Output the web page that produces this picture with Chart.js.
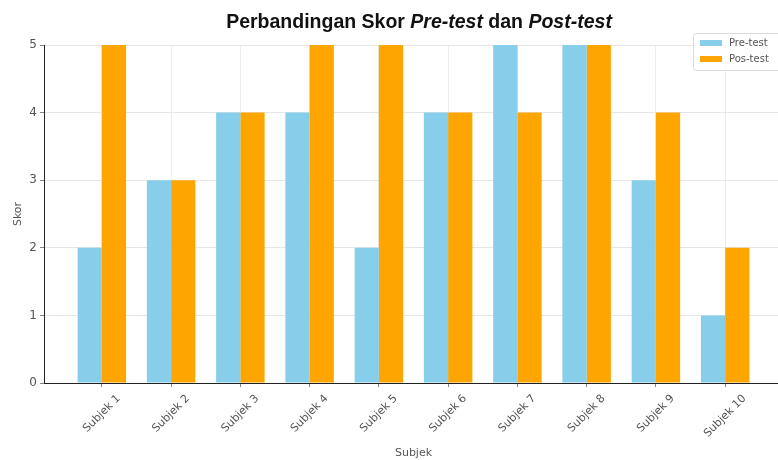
<!DOCTYPE html>
<html>
<head>
    <title>Perbandingan Skor Pre-test dan Post-test</title>
    <script src="https://cdn.jsdelivr.net/npm/chart.js"></script>
    <style>
        html, body { margin: 0; padding: 0; background: #fff; overflow: hidden; }
        .chart-container { width: 800px; height: 460px; }
    </style>
</head>
<body>
    <div class="chart-container">
        <canvas id="skorChart" width="800" height="460"></canvas>
    </div>
    <script type="text/javascript">
        // Data
        const subjects = ['Subjek 1', 'Subjek 2', 'Subjek 3', 'Subjek 4', 'Subjek 5',
                          'Subjek 6', 'Subjek 7', 'Subjek 8', 'Subjek 9', 'Subjek 10'];
        const preTest  = [2, 3, 4, 4, 2, 4, 5, 5, 3, 1];
        const postTest = [5, 3, 4, 5, 5, 4, 4, 5, 4, 2];
        const yTicks   = [0, 1, 2, 3, 4, 5];

        const toPoints = arr => arr.map((v, i) => ({ x: i, y: v }));

        // Title with italic parts, drawn on top of the chart
        const titlePlugin = {
            id: 'mixedTitle',
            afterDraw(chart) {
                const ctx = chart.ctx;
                const parts = [
                    ['Perbandingan Skor ', 'bold'],
                    ['Pre-test', 'italic bold'],
                    [' dan ', 'bold'],
                    ['Post-test', 'italic bold']
                ];
                const size = 19.5;
                let total = 0;
                parts.forEach(p => {
                    ctx.font = p[1] + ' ' + size + 'px "Liberation Sans", Arial, sans-serif';
                    p.push(ctx.measureText(p[0]).width);
                    total += p[2];
                });
                let x = 419 - total / 2;
                ctx.save();
                ctx.fillStyle = '#111';
                ctx.textBaseline = 'alphabetic';
                parts.forEach(p => {
                    ctx.font = p[1] + ' ' + size + 'px "Liberation Sans", Arial, sans-serif';
                    ctx.fillText(p[0], x, 28);
                    x += p[2];
                });
                ctx.restore();
            }
        };

        // x tick labels rotated 45 degrees, centred under each tick
        const xLabelPlugin = {
            id: 'xLabels',
            afterDraw(chart) {
                const ctx = chart.ctx;
                const scale = chart.scales.x;
                const top = chart.chartArea.bottom + 10;
                ctx.save();
                ctx.font = '11px "DejaVu Sans", sans-serif';
                ctx.fillStyle = '#555';
                ctx.textAlign = 'center';
                ctx.textBaseline = 'middle';
                subjects.forEach((s, i) => {
                    const px = scale.getPixelForValue(i);
                    const w = ctx.measureText(s).width;
                    const half = (w + 11) / (2 * Math.SQRT2);
                    ctx.save();
                    ctx.translate(px, top + half);
                    ctx.rotate(-Math.PI / 4);
                    ctx.fillText(s, 0, 0);
                    ctx.restore();
                });
                ctx.restore();
            }
        };

        // Legend inside the plot, upper right corner
        const legendPlugin = {
            id: 'innerLegend',
            afterDraw(chart) {
                const ctx = chart.ctx;
                const bx = 693, by = 33, bw = 95, bh = 37;
                ctx.save();
                ctx.fillStyle = 'rgba(255,255,255,0.85)';
                ctx.strokeStyle = '#dddddd';
                ctx.lineWidth = 1;
                ctx.beginPath();
                ctx.roundRect(bx + 0.5, by + 0.5, bw, bh, 3);
                ctx.fill();
                ctx.stroke();
                chart.data.datasets.forEach((ds, i) => {
                    const y = by + 10 + i * 16;
                    ctx.fillStyle = ds.backgroundColor;
                    ctx.fillRect(bx + 7, y - 3, 22, 6);
                    ctx.fillStyle = '#555';
                    ctx.font = '10px "DejaVu Sans", sans-serif';
                    ctx.textBaseline = 'middle';
                    ctx.fillText(ds.label, bx + 36, y);
                });
                ctx.restore();
            }
        };

        const ctx = document.getElementById('skorChart').getContext('2d');
        const skorChart = new Chart(ctx, {
            type: 'bar',
            data: {
                datasets: [
                    {
                        label: 'Pre-test',
                        data: toPoints(preTest),
                        backgroundColor: '#87CEEB',
                        borderWidth: 0
                    },
                    {
                        label: 'Pos-test',
                        data: toPoints(postTest),
                        backgroundColor: '#FFA500',
                        borderWidth: 0
                    }
                ]
            },
            options: {
                responsive: false,
                animation: false,
                categoryPercentage: 0.7,
                barPercentage: 1.0,
                layout: { padding: { top: 45, right: 17, left: 0, bottom: 0 } },
                plugins: {
                    legend: { display: false },
                    title: { display: false },
                    tooltip: { enabled: false }
                },
                scales: {
                    x: {
                        type: 'linear',
                        offset: false,
                        min: -0.835,
                        max: 9.835,
                        afterBuildTicks: scale => {
                            scale.ticks = subjects.map((s, i) => ({ value: i }));
                        },
                        afterFit: scale => { scale.height = 77; },
                        ticks: { display: false },
                        grid: {
                            offset: false,
                            color: '#ececec',
                            tickColor: '#888',
                            tickLength: 4
                        },
                        border: { color: '#222', width: 1 },
                        title: {
                            display: true,
                            text: 'Subjek',
                            color: '#555',
                            font: { family: '"DejaVu Sans", sans-serif', size: 11 },
                            padding: { top: 0, bottom: 0 }
                        }
                    },
                    y: {
                        min: 0,
                        max: 5,
                        afterBuildTicks: scale => {
                            scale.ticks = yTicks.map(v => ({ value: v }));
                        },
                        afterFit: scale => { scale.width = 44; },
                        ticks: {
                            color: '#555',
                            font: { family: '"DejaVu Sans", sans-serif', size: 12 },
                            padding: 3
                        },
                        grid: {
                            color: '#e6e6e6',
                            tickColor: '#888',
                            tickLength: 4
                        },
                        border: { color: '#222', width: 1 },
                        title: {
                            display: true,
                            text: 'Skor',
                            color: '#555',
                            font: { family: '"DejaVu Sans", sans-serif', size: 11 },
                            padding: { top: 12, bottom: 0 }
                        }
                    }
                }
            },
            plugins: [titlePlugin, xLabelPlugin, legendPlugin]
        });
    </script>
</body>
</html>
